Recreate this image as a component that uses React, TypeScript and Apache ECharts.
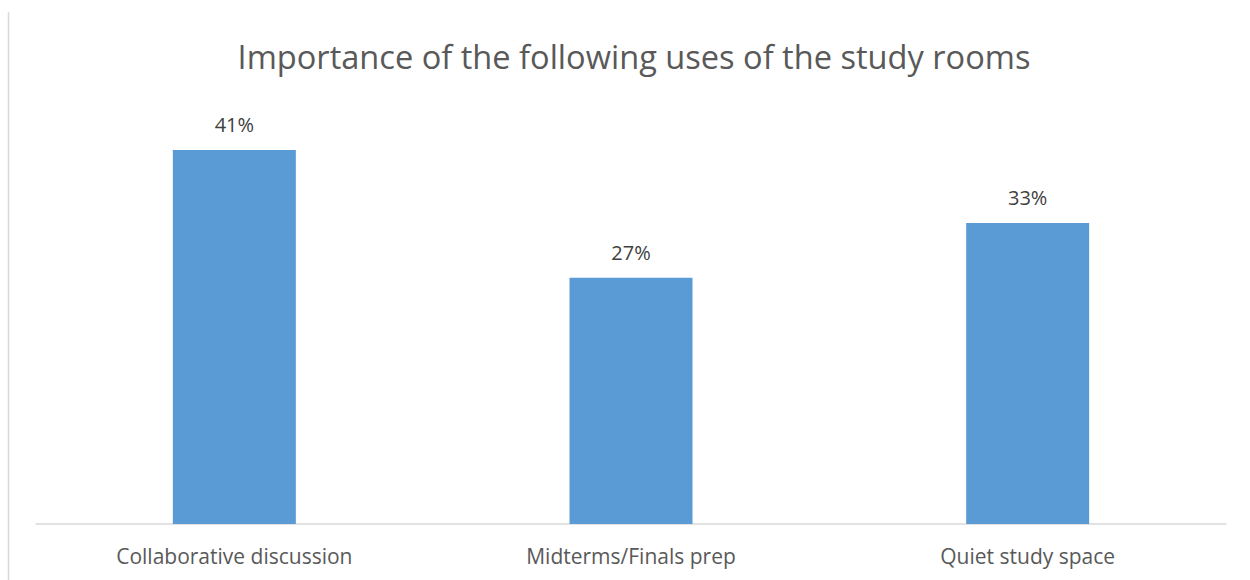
import React, { useEffect, useRef } from "react";
import * as echarts from "echarts";

const categories = ["Collaborative discussion", "Midterms/Finals prep", "Quiet study space"];
const shares = [41, 27, 33];
const titleText = "Importance of the following uses of the study rooms";

export default function App() {
  const ref = useRef<HTMLDivElement>(null);

  useEffect(() => {
    if (!ref.current) return;
    const chart = echarts.init(ref.current, null, { renderer: "svg" });
    chart.setOption({
      animation: false,
      backgroundColor: "#ffffff",
      title: {
        text: titleText,
        left: 629,
        textAlign: "center",
        top: 35,
        textStyle: {
          fontFamily: "Open Sans",
          fontSize: 32.6,
          fontWeight: "normal",
          color: "#595959",
        },
      },
      graphic: [
        {
          type: "line",
          shape: { x1: 8.5, y1: 12, x2: 8.5, y2: 580 },
          style: { stroke: "#d9d9d9", lineWidth: 1.5 },
        },
      ],
      grid: { left: 36, right: 24, top: 113.5, bottom: 56 },
      xAxis: {
        type: "category",
        data: categories,
        axisLine: { lineStyle: { color: "#d9d9d9", width: 1.5 } },
        axisTick: { show: false },
        axisLabel: {
          fontFamily: "Open Sans",
          fontSize: 21,
          color: "#595959",
          margin: 21,
        },
      },
      yAxis: {
        type: "value",
        min: 0,
        max: 45,
        show: false,
        splitLine: { show: false },
      },
      series: [
        {
          type: "bar",
          data: shares,
          barWidth: 123,
          itemStyle: { color: "#5b9bd5" },
          label: {
            show: true,
            position: "top",
            distance: 15,
            formatter: "{c}%",
            fontFamily: "Open Sans",
            fontSize: 20,
            color: "#404040",
          },
        },
      ],
    });
    return () => chart.dispose();
  }, []);

  return (
    <div
      ref={ref}
      style={{ position: "fixed", left: 0, top: 0, width: 1250, height: 580 }}
    />
  );
}
